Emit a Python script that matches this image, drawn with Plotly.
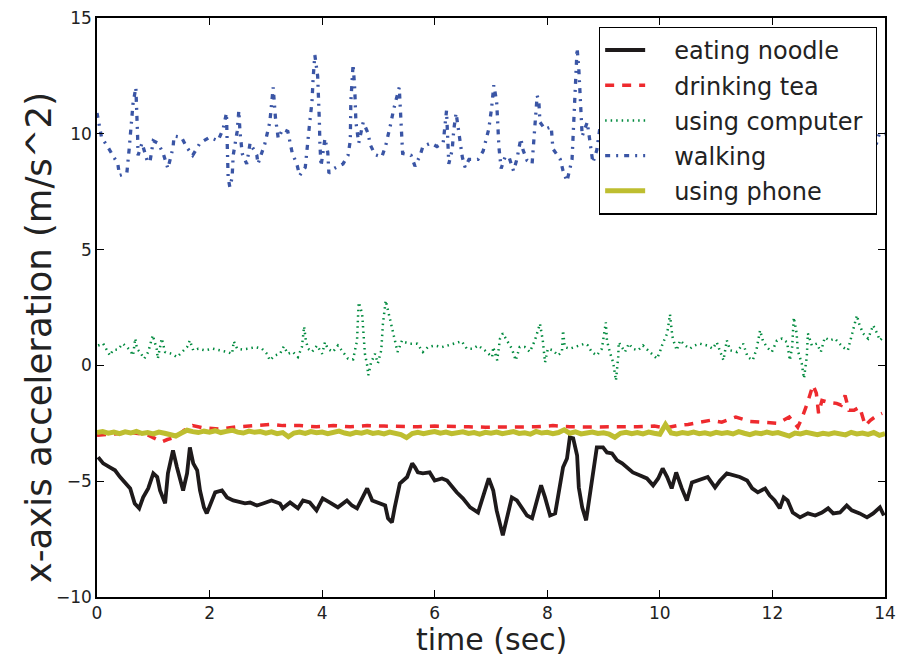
import plotly.graph_objects as go

# ---------------- data ----------------
noodle = [(0.02,-3.96),(0.11,-4.23),(0.23,-4.4),(0.32,-4.53),(0.41,-4.82),(0.5,-5.05),(0.59,-5.31),(0.67,-5.96),
(0.75,-6.17),(0.82,-5.7),(0.91,-5.31),(1.0,-4.66),(1.07,-4.82),(1.12,-5.4),(1.21,-5.96),(1.26,-4.66),(1.35,-3.67),
(1.42,-4.4),(1.53,-5.4),(1.6,-4.66),(1.65,-3.54),(1.71,-4.23),(1.78,-4.53),(1.83,-5.4),(1.9,-6.13),(1.95,-6.39),
(2.04,-5.83),(2.1,-5.48),(2.22,-5.4),(2.31,-5.7),(2.42,-5.83),(2.54,-5.92),(2.63,-5.96),(2.72,-5.92),(2.84,-6.05),
(2.95,-5.96),(3.1,-5.83),(3.25,-5.96),(3.3,-6.17),(3.43,-5.92),(3.57,-6.17),(3.66,-5.83),(3.78,-5.92),(3.9,-6.26),
(4.01,-5.74),(4.14,-5.92),(4.28,-6.13),(4.44,-5.83),(4.53,-6.05),(4.62,-6.17),(4.71,-5.7),(4.8,-5.31),(4.89,-5.83),
(5.03,-5.96),(5.12,-6.05),(5.17,-6.6),(5.24,-6.78),(5.29,-6.13),(5.38,-5.1),(5.51,-4.82),(5.6,-4.23),(5.65,-4.4),
(5.7,-4.62),(5.79,-4.66),(5.91,-4.62),(6.0,-4.97),(6.13,-4.88),(6.22,-4.97),(6.31,-5.27),(6.39,-5.48),(6.5,-5.74),
(6.63,-6.13),(6.77,-6.35),(6.86,-5.7),(6.96,-4.88),(7.04,-5.4),(7.1,-6.26),(7.21,-7.34),(7.28,-6.69),(7.37,-5.7),
(7.46,-5.83),(7.55,-6.13),(7.64,-6.48),(7.73,-6.6),(7.82,-5.83),(7.89,-5.18),(7.96,-5.7),(8.05,-6.48),(8.14,-6.39),
(8.23,-4.97),(8.28,-4.4),(8.35,-4.02),(8.4,-3.11),(8.46,-3.15),(8.53,-3.89),(8.56,-5.27),(8.62,-6.13),(8.69,-6.69),
(8.76,-5.53),(8.85,-4.23),(8.88,-3.54),(8.99,-3.54),(9.06,-3.76),(9.15,-3.8),(9.24,-4.1),(9.33,-4.23),(9.42,-4.4),
(9.52,-4.62),(9.65,-4.75),(9.77,-4.88),(9.88,-5.18),(9.97,-4.88),(10.05,-4.45),(10.13,-4.82),(10.21,-5.31),
(10.29,-4.62),(10.39,-5.31),(10.48,-5.83),(10.57,-5.05),(10.68,-4.97),(10.85,-4.82),(10.98,-5.27),(11.07,-4.97),
(11.19,-4.66),(11.3,-4.75),(11.42,-4.82),(11.55,-4.97),(11.64,-5.31),(11.74,-5.48),(11.87,-5.31),(11.95,-5.61),
(12.04,-5.83),(12.13,-6.17),(12.2,-5.7),(12.27,-5.83),(12.36,-6.35),(12.49,-6.56),(12.63,-6.39),(12.76,-6.48),
(12.88,-6.35),(12.99,-6.17),(13.08,-6.39),(13.2,-6.35),(13.32,-6.05),(13.41,-6.26),(13.55,-6.39),(13.68,-6.56),
(13.79,-6.39),(13.91,-6.13),(13.98,-6.48)]

tea = [(0,-3.02),(0.3,-2.95),(0.6,-2.9),(0.9,-3.0),(1.05,-3.2),(1.15,-3.3),(1.25,-3.2),(1.4,-3.1),(1.55,-2.8),
(1.7,-2.6),(1.9,-2.7),(2.2,-2.75),(2.5,-2.65),(2.8,-2.6),(3.1,-2.55),(3.3,-2.6),(3.6,-2.6),(3.9,-2.65),(4.2,-2.6),
(4.5,-2.65),(4.8,-2.6),(5.1,-2.62),(5.4,-2.65),(5.7,-2.65),(6.0,-2.62),(6.3,-2.65),(6.6,-2.65),(6.9,-2.67),
(7.2,-2.66),(7.5,-2.65),(7.8,-2.65),(8.1,-2.6),(8.4,-2.65),(8.7,-2.66),(9.0,-2.67),(9.3,-2.65),(9.6,-2.65),
(9.9,-2.62),(10.1,-2.7),(10.3,-2.6),(10.5,-2.55),(10.7,-2.45),(10.9,-2.37),(11.1,-2.45),(11.35,-2.23),(11.6,-2.42),
(11.9,-2.45),(12.1,-2.5),(12.3,-2.23),(12.45,-2.67),(12.52,-2.3),(12.62,-1.64),(12.72,-0.85),(12.78,-1.2),
(12.82,-2.07),(12.88,-1.51),(13.0,-1.6),(13.14,-1.64),(13.22,-1.72),(13.29,-1.3),(13.36,-1.94),(13.45,-1.94),
(13.55,-1.8),(13.65,-2.6),(13.74,-2.37),(13.86,-2.16),(13.95,-2.07)]

computer = [(0.02,0.86),(0.11,0.94),(0.23,0.43),(0.28,0.65),(0.37,0.69),(0.46,0.94),(0.53,0.79),(0.59,0.65),
(0.64,0.43),(0.68,1.16),(0.71,0.72),(0.76,0.58),(0.84,0.29),(0.91,0.58),(0.99,1.3),(1.06,0.72),(1.08,0.29),
(1.15,1.16),(1.21,0.58),(1.33,0.5),(1.42,0.36),(1.51,0.58),(1.6,0.79),(1.65,1.08),(1.71,0.65),(1.8,0.72),
(1.92,0.65),(2.06,0.72),(2.22,0.65),(2.31,0.58),(2.4,0.5),(2.43,1.04),(2.49,0.72),(2.58,0.69),(2.68,0.72),
(2.81,0.79),(2.93,0.72),(3.02,0.5),(3.07,0.22),(3.16,0.43),(3.25,0.5),(3.32,0.82),(3.39,0.5),(3.48,0.58),
(3.57,0.36),(3.64,0.79),(3.68,1.68),(3.71,1.08),(3.75,0.72),(3.82,0.58),(3.91,0.86),(4.0,0.5),(4.05,1.0),
(4.1,0.72),(4.19,0.58),(4.28,0.86),(4.37,0.58),(4.46,0.29),(4.55,0.26),(4.62,1.08),(4.64,2.24),(4.65,2.72),
(4.71,2.24),(4.73,1.38),(4.76,0.5),(4.8,0.0),(4.82,-0.43),(4.87,0.13),(4.94,0.5),(4.99,0.09),(5.05,0.65),
(5.08,1.8),(5.13,2.8),(5.17,2.37),(5.24,1.64),(5.29,1.08),(5.34,0.58),(5.42,1.08),(5.47,1.0),(5.56,0.94),
(5.69,0.94),(5.79,0.58),(5.88,0.79),(6.0,0.86),(6.13,0.79),(6.23,0.86),(6.36,0.94),(6.48,1.04),(6.57,0.72),
(6.68,0.72),(6.77,0.86),(6.89,0.65),(7.02,0.36),(7.04,0.79),(7.11,0.22),(7.16,1.16),(7.21,1.38),(7.3,1.0),
(7.37,0.72),(7.44,0.22),(7.51,0.79),(7.6,0.79),(7.69,0.58),(7.78,1.08),(7.87,1.8),(7.92,1.08),(7.96,0.13),
(8.01,0.72),(8.1,0.65),(8.19,0.43),(8.26,0.58),(8.28,1.51),(8.31,0.79),(8.4,0.72),(8.49,0.79),(8.58,0.86),
(8.67,0.94),(8.72,0.86),(8.79,0.58),(8.88,0.43),(8.97,0.72),(9.04,1.86),(9.06,1.08),(9.11,0.58),(9.17,0.13),
(9.22,-0.65),(9.26,0.36),(9.27,1.0),(9.33,0.79),(9.38,0.58),(9.45,0.94),(9.52,0.72),(9.61,0.65),(9.7,0.86),
(9.79,0.65),(9.88,0.43),(9.95,0.29),(10.0,0.58),(10.05,0.94),(10.13,1.38),(10.18,2.2),(10.21,1.51),(10.23,1.16),
(10.3,0.65),(10.36,1.08),(10.45,0.86),(10.53,0.72),(10.62,0.86),(10.71,0.94),(10.84,0.86),(10.94,0.72),
(11.01,1.0),(11.07,0.65),(11.13,0.22),(11.19,1.08),(11.25,0.65),(11.37,0.58),(11.48,0.94),(11.56,0.36),
(11.65,0.22),(11.72,0.72),(11.78,1.51),(11.83,1.08),(11.9,0.79),(11.99,0.58),(12.08,1.08),(12.17,1.16),
(12.26,1.0),(12.31,0.22),(12.35,0.79),(12.38,2.07),(12.43,1.38),(12.45,0.65),(12.52,0.09),(12.56,-0.56),
(12.61,0.36),(12.63,1.38),(12.7,0.86),(12.79,0.94),(12.86,0.58),(12.93,1.2),(13.02,1.08),(13.11,1.16),
(13.2,0.94),(13.25,0.79),(13.34,0.65),(13.43,1.51),(13.5,2.16),(13.54,1.8),(13.61,1.38),(13.7,1.16),
(13.79,1.73),(13.86,1.38),(13.91,1.08),(13.96,1.2)]

walking = [(0,10.9),(0.08,9.85),(0.2,9.4),(0.37,8.7),(0.4,8.2),(0.53,8.3),(0.57,9.3),(0.6,10.3),(0.64,11.3),
(0.69,12.0),(0.71,11.0),(0.72,10.0),(0.73,9.07),(0.8,9.6),(0.89,8.85),(0.94,8.77),(1.0,9.7),(1.08,9.6),(1.17,9.2),
(1.26,8.5),(1.35,9.4),(1.37,9.9),(1.5,9.85),(1.6,9.4),(1.7,9.07),(1.83,9.6),(2.0,9.85),(2.15,9.7),(2.24,10.2),
(2.3,10.9),(2.31,9.9),(2.32,9.0),(2.33,8.1),(2.36,7.7),(2.4,8.1),(2.42,9.07),(2.49,10.1),(2.52,11.0),(2.54,10.1),
(2.58,9.15),(2.66,8.7),(2.72,9.6),(2.84,9.07),(2.86,8.7),(2.98,9.55),(3.07,10.5),(3.12,11.6),(3.13,12.0),
(3.17,10.7),(3.22,9.8),(3.3,10.2),(3.39,10.1),(3.47,9.15),(3.55,8.7),(3.6,8.2),(3.7,8.55),(3.78,10.5),(3.82,11.4),
(3.84,12.4),(3.87,13.4),(3.92,12.5),(3.94,11.5),(3.95,10.6),(3.96,9.6),(3.98,8.6),(4.05,9.8),(4.1,9.2),(4.12,8.3),
(4.21,8.5),(4.37,8.7),(4.46,9.07),(4.5,9.7),(4.51,11.4),(4.55,13.0),(4.58,11.9),(4.6,10.5),(4.65,9.6),(4.73,10.5),
(4.82,10.0),(4.85,9.55),(4.94,9.1),(5.06,9.0),(5.13,9.5),(5.22,10.45),(5.27,11.05),(5.37,12.0),(5.39,11.1),
(5.41,10.1),(5.43,9.15),(5.58,9.07),(5.65,8.6),(5.74,9.07),(5.79,9.45),(5.93,9.6),(6.04,9.45),(6.15,9.6),
(6.2,10.6),(6.21,11.0),(6.23,9.85),(6.25,8.7),(6.31,9.3),(6.34,10.2),(6.38,10.9),(6.43,10.0),(6.49,9.0),
(6.54,8.55),(6.61,8.9),(6.77,8.9),(6.86,9.25),(6.96,10.2),(7.01,11.1),(7.05,12.1),(7.1,11.4),(7.12,10.45),
(7.14,9.45),(7.18,8.5),(7.25,9.0),(7.32,9.0),(7.4,8.4),(7.46,8.9),(7.5,9.35),(7.53,9.8),(7.57,9.3),(7.64,8.85),
(7.73,8.7),(7.76,9.7),(7.8,10.7),(7.82,11.65),(7.85,11.4),(7.87,10.5),(7.96,10.2),(8.07,10.3),(8.1,9.35),
(8.23,8.9),(8.28,8.4),(8.35,7.95),(8.44,8.9),(8.46,9.85),(8.47,10.9),(8.49,11.8),(8.51,12.8),(8.53,13.7),
(8.56,12.8),(8.58,11.9),(8.6,10.9),(8.62,9.9),(8.71,10.5),(8.76,9.6),(8.81,8.75),(8.88,9.3),(8.95,10.6),
(9.0,11.4),(9.05,10.2),(9.15,9.0),(9.3,8.6),(9.45,9.4),(9.55,10.8),(9.6,11.8),(9.7,10.2),(9.8,8.8),(9.95,9.3),
(10.1,10.5),(10.2,11.6),(10.3,10.0),(10.4,8.7),(10.55,9.1),(10.7,10.4),(10.8,12.0),(10.9,10.3),(11.0,8.8),
(11.15,9.2),(11.3,10.6),(11.4,11.8),(11.5,10.0),(11.6,8.5),(11.75,9.3),(11.9,10.7),(12.0,12.3),(12.1,10.4),
(12.2,8.9),(12.35,9.2),(12.5,10.5),(12.6,11.5),(12.7,10.1),(12.8,8.8),(12.95,9.4),(13.1,10.6),(13.2,11.7),
(13.3,10.2),(13.4,8.9),(13.55,9.1),(13.7,9.3),(13.8,9.6),(13.85,9.6),(13.9,10.0),(14.0,10.0)]

phone_dt = 0.1
phone_v = [-2.90,-2.86,-2.93,-2.88,-2.95,-2.87,-2.92,-2.85,-2.94,-2.90,
-2.96,-2.88,-2.93,-2.99,-3.05,-2.92,-2.80,-2.86,-2.90,-2.84,
-2.88,-2.82,-2.90,-2.85,-2.80,-2.88,-2.92,-2.84,-2.89,-2.86,
-2.93,-2.87,-2.95,-2.90,-3.08,-2.92,-2.88,-2.94,-2.86,-2.91,
-2.88,-2.95,-2.90,-2.84,-2.92,-2.97,-2.89,-2.93,-2.86,-2.94,
-2.90,-2.96,-2.88,-2.93,-2.99,-3.12,-2.94,-2.89,-2.95,-2.90,
-2.86,-2.93,-2.88,-2.95,-2.91,-2.87,-2.94,-2.90,-2.97,-2.89,
-2.93,-2.88,-2.95,-2.90,-2.86,-2.94,-2.91,-2.97,-2.85,-2.92,
-2.89,-2.95,-2.90,-2.78,-2.93,-2.87,-2.96,-2.92,-2.88,-2.94,
-2.91,-2.97,-3.10,-2.93,-2.89,-2.95,-2.90,-2.96,-2.88,-2.93,
-2.97,-2.55,-2.92,-2.96,-2.90,-2.94,-2.88,-2.95,-2.91,-2.97,
-2.89,-2.94,-2.90,-2.96,-2.86,-2.93,-2.99,-2.91,-2.95,-2.88,
-2.94,-2.90,-2.97,-3.05,-2.92,-2.96,-2.89,-2.95,-2.99,-2.93,
-2.97,-2.91,-2.95,-3.00,-2.89,-2.96,-2.92,-2.98,-2.90,-3.02,
-2.95]
phone_t = [round(i * phone_dt, 2) for i in range(len(phone_v))]

x_ticks = [0, 2, 4, 6, 8, 10, 12, 14]
y_ticks = [-10, -5, 0, 5, 10, 15]

# ---------------- figure ----------------
def unzip(pairs):
    return [p[0] for p in pairs], [p[1] for p in pairs]

PAD = "\u2002\u2002"   # gap between legend sample and label
TAIL = "\u00a0"        # a little extra room on the right of the legend box

fig = go.Figure()
series = [
    ("eating noodle", noodle, "#1e1a1b", 3.8, "solid"),
    ("drinking tea", tea, "#ee2a2e", 3.5, "9px,8px"),
    ("using computer", computer, "#008a3e", 2.5, "1.5px,4px"),
    ("walking", walking, "#3a55a5", 3.3, "5px,6px,2px,6px"),
]
for name, pairs, col, w, dash in series:
    t, v = unzip(pairs)
    fig.add_trace(go.Scatter(x=t, y=v, mode="lines", name=PAD + name + TAIL, legendgroup=name,
                             line=dict(color=col, width=w, dash=dash)))
fig.add_trace(go.Scatter(x=phone_t, y=phone_v, mode="lines", name=PAD + "using phone" + TAIL,
                         legendgroup="phone", line=dict(color="#bebe30", width=5)))

axis_common = dict(showline=True, linecolor="black", linewidth=1.5, mirror="ticks",
                   ticks="inside", ticklen=7, tickwidth=1.2, tickcolor="black",
                   showgrid=False, zeroline=False,
                   tickfont=dict(size=17, color="#222"))
fig.update_xaxes(range=[0, 14], tickvals=x_ticks, ticktext=[str(v) for v in x_ticks], **axis_common)
fig.update_yaxes(range=[-10, 15], tickvals=y_ticks,
                 ticktext=[("\u2212" + str(-v)) if v < 0 else str(v) for v in y_ticks], **axis_common)

fig.add_annotation(text="time (sec)", xref="paper", yref="paper", x=0.5, y=-0.0734,
                   xanchor="center", yanchor="middle", showarrow=False, borderpad=0,
                   font=dict(size=30, color="#222"))
fig.add_annotation(text="x-axis acceleration (m/s^2)", xref="paper", yref="paper", x=-0.0748, y=0.447,
                   xanchor="center", yanchor="middle", textangle=-90, showarrow=False,
                   font=dict(size=35.5, color="#222"))

fig.update_layout(
    width=900, height=659,
    margin=dict(l=97, r=15, t=18, b=62, autoexpand=False),
    plot_bgcolor="white", paper_bgcolor="white",
    font=dict(family="DejaVu Sans", color="#222"),
    legend=dict(x=0.637, y=0.985, xanchor="left", yanchor="top",
                bgcolor="white", bordercolor="black", borderwidth=1.2,
                font=dict(size=24, color="#222"), traceorder="grouped",
                tracegroupgap=1, itemwidth=40),
)

fig.write_html("out.html", config={"responsive": False})
